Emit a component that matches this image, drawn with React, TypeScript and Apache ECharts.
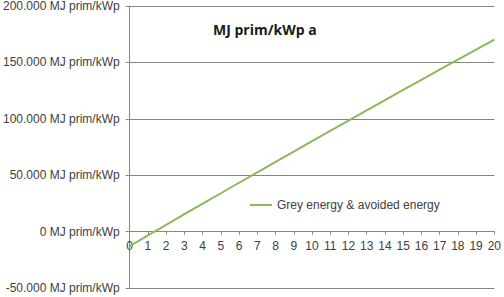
import React, { useEffect, useRef } from "react";
import * as echarts from "echarts";

const years = ["0","1","2","3","4","5","6","7","8","9","10","11","12","13","14","15","16","17","18","19","20"];
const greyAvoided = [-12800, -3400, 6000, 15400, 24700, 34000, 43300, 52600, 61800, 71000, 80200, 89300, 98400, 107500, 116600, 125600, 134600, 143600, 152500, 161400, 170300];
const seriesName = "Grey energy & avoided energy";
const chartTitle = "MJ prim/kWp a";
const unit = " MJ prim/kWp";
const yMin = -50000;
const yMax = 200000;
const yStep = 50000;

const gridTop = 6;
const gridBottom = 9;
const chartH = 297;

function fmt(v: number): string {
  const s = Math.abs(v).toString().replace(/\B(?=(\d{3})+(?!\d))/g, ".");
  return (v < 0 ? "-" : "") + s + unit;
}

export default function App() {
  const ref = useRef<HTMLDivElement>(null);
  useEffect(() => {
    if (!ref.current) return;
    const chart = echarts.init(ref.current, undefined, { renderer: "svg" });
    const plotH = chartH - gridTop - gridBottom;
    const zeroOffset = -(plotH * (0 - yMin)) / (yMax - yMin);
    chart.setOption({
      animation: false,
      backgroundColor: "#ffffff",
      title: {
        text: chartTitle,
        left: 213,
        top: 22,
        padding: 0,
        textStyle: { fontFamily: "Open Sans", fontWeight: "bold", fontSize: 14, color: "#1a1a1a" },
      },
      legend: {
        left: 250,
        top: 199,
        padding: 0,
        itemWidth: 22,
        itemHeight: 14,
        textStyle: { fontFamily: "Liberation Sans", fontSize: 12, color: "#404040" },
        data: [{ name: seriesName, icon: "path://M0,6 L22,6 L22,8 L0,8 Z" }],
      },
      grid: { left: 128, right: 6.5, top: gridTop, bottom: gridBottom, containLabel: false },
      xAxis: {
        type: "category",
        data: years,
        boundaryGap: false,
        offset: zeroOffset,
        axisLine: { onZero: false, lineStyle: { color: "#868686", width: 1 } },
        axisTick: { show: true, alignWithLabel: true, length: 3, lineStyle: { color: "#868686" } },
        axisLabel: { fontFamily: "Liberation Sans", fontSize: 12, color: "#404040", margin: 8, interval: 0 },
        splitLine: { show: false },
      },
      yAxis: {
        type: "value",
        min: yMin,
        max: yMax,
        interval: yStep,
        axisLine: { show: true, lineStyle: { color: "#868686" } },
        axisTick: { show: true, length: 4, lineStyle: { color: "#868686" } },
        axisLabel: {
          fontFamily: "Liberation Sans",
          fontSize: 12,
          color: "#404040",
          margin: 10,
          formatter: (v: number) => fmt(v),
        },
        splitLine: { show: true, lineStyle: { color: "#868686", width: 1 } },
      },
      series: [
        {
          name: seriesName,
          type: "line",
          data: greyAvoided,
          symbol: "none",
          showSymbol: false,
          lineStyle: { color: "#8cb85a", width: 2 },
          itemStyle: { color: "#8cb85a" },
        },
      ],
    });
    return () => chart.dispose();
  }, []);
  return <div ref={ref} style={{ width: 504, height: 297, position: "absolute", left: 0, top: 0 }} />;
}
